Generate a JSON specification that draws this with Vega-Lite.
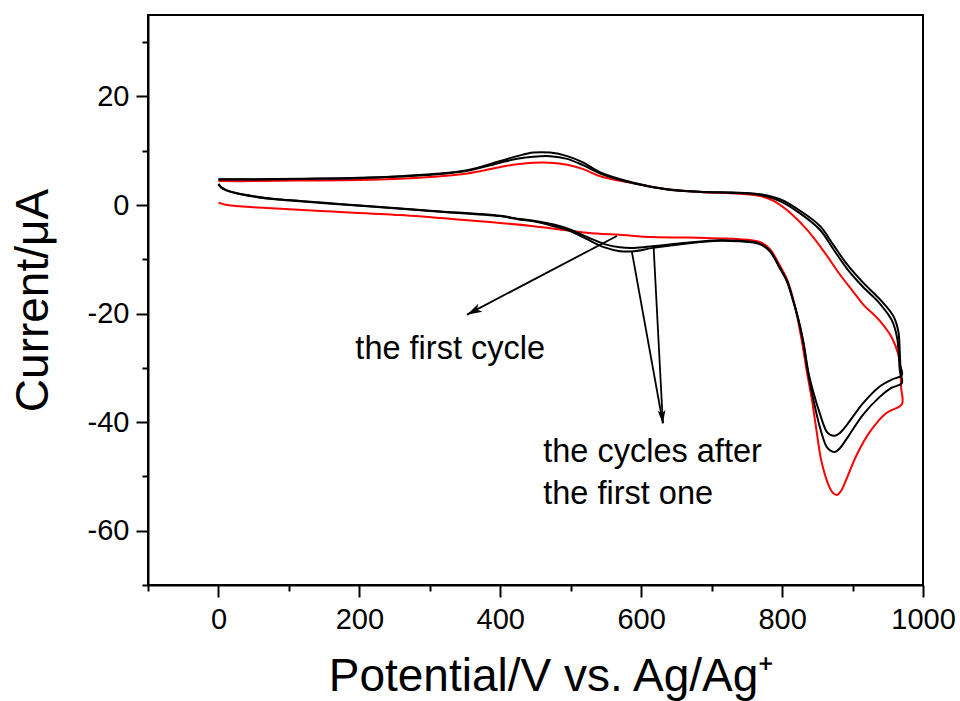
{
  "$schema": "https://vega.github.io/schema/vega-lite/v6.json",
  "width": 775,
  "height": 570,
  "autosize": {"type": "none"},
  "padding": {"left": 148, "top": 15, "right": 37, "bottom": 116},
  "background": "white",
  "config": {"view": {"stroke": "black", "strokeWidth": 2}, "font": "Liberation Sans"},
  "datasets": {
    "cv": [
      {"cycle":"c1","i":0,"potential":0,"current":4.4},
      {"cycle":"c1","i":1,"potential":50,"current":4.4},
      {"cycle":"c1","i":2,"potential":116,"current":4.5},
      {"cycle":"c1","i":3,"potential":200,"current":4.6},
      {"cycle":"c1","i":4,"potential":258,"current":4.85},
      {"cycle":"c1","i":5,"potential":305,"current":5.2},
      {"cycle":"c1","i":6,"potential":353,"current":5.8},
      {"cycle":"c1","i":7,"potential":400,"current":7.0},
      {"cycle":"c1","i":8,"potential":424,"current":7.5},
      {"cycle":"c1","i":9,"potential":447,"current":7.8},
      {"cycle":"c1","i":10,"potential":471,"current":7.8},
      {"cycle":"c1","i":11,"potential":495,"current":7.4},
      {"cycle":"c1","i":12,"potential":518,"current":6.6},
      {"cycle":"c1","i":13,"potential":542,"current":5.3},
      {"cycle":"c1","i":14,"potential":589,"current":4.0},
      {"cycle":"c1","i":15,"potential":637,"current":2.9},
      {"cycle":"c1","i":16,"potential":684,"current":2.4},
      {"cycle":"c1","i":17,"potential":740,"current":2.09},
      {"cycle":"c1","i":18,"potential":769,"current":1.66},
      {"cycle":"c1","i":19,"potential":788,"current":0.74},
      {"cycle":"c1","i":20,"potential":811,"current":-1.4},
      {"cycle":"c1","i":21,"potential":835,"current":-4.5},
      {"cycle":"c1","i":22,"potential":859,"current":-8.5},
      {"cycle":"c1","i":23,"potential":882,"current":-12.8},
      {"cycle":"c1","i":24,"potential":900,"current":-15.8},
      {"cycle":"c1","i":25,"potential":915,"current":-18.3},
      {"cycle":"c1","i":26,"potential":939,"current":-21.4},
      {"cycle":"c1","i":27,"potential":956,"current":-24.5},
      {"cycle":"c1","i":28,"potential":965,"current":-27.6},
      {"cycle":"c1","i":29,"potential":968,"current":-31},
      {"cycle":"c1","i":30,"potential":969,"current":-33.7},
      {"cycle":"c1","i":31,"potential":970,"current":-36.7},
      {"cycle":"c1","i":32,"potential":948,"current":-38.3},
      {"cycle":"c1","i":33,"potential":925,"current":-41.7},
      {"cycle":"c1","i":34,"potential":906,"current":-46},
      {"cycle":"c1","i":35,"potential":892,"current":-50.3},
      {"cycle":"c1","i":36,"potential":884,"current":-52.6},
      {"cycle":"c1","i":37,"potential":878,"current":-53.4},
      {"cycle":"c1","i":38,"potential":872,"current":-53.0},
      {"cycle":"c1","i":39,"potential":866,"current":-51.6},
      {"cycle":"c1","i":40,"potential":856,"current":-47.3},
      {"cycle":"c1","i":41,"potential":849,"current":-41.7},
      {"cycle":"c1","i":42,"potential":842,"current":-35.6},
      {"cycle":"c1","i":43,"potential":835,"current":-30.6},
      {"cycle":"c1","i":44,"potential":828,"current":-25.0},
      {"cycle":"c1","i":45,"potential":818,"current":-18.5},
      {"cycle":"c1","i":46,"potential":808,"current":-14.0},
      {"cycle":"c1","i":47,"potential":797,"current":-11.2},
      {"cycle":"c1","i":48,"potential":783,"current":-8.2},
      {"cycle":"c1","i":49,"potential":770,"current":-6.9},
      {"cycle":"c1","i":50,"potential":740,"current":-6.3},
      {"cycle":"c1","i":51,"potential":712,"current":-6.15},
      {"cycle":"c1","i":52,"potential":665,"current":-6.0},
      {"cycle":"c1","i":53,"potential":617,"current":-5.9},
      {"cycle":"c1","i":54,"potential":570,"current":-5.5},
      {"cycle":"c1","i":55,"potential":523,"current":-5.1},
      {"cycle":"c1","i":56,"potential":447,"current":-3.9},
      {"cycle":"c1","i":57,"potential":400,"current":-3.3},
      {"cycle":"c1","i":58,"potential":353,"current":-2.8},
      {"cycle":"c1","i":59,"potential":258,"current":-1.85},
      {"cycle":"c1","i":60,"potential":145,"current":-1.1},
      {"cycle":"c1","i":61,"potential":69,"current":-0.55},
      {"cycle":"c1","i":62,"potential":30,"current":-0.25},
      {"cycle":"c1","i":63,"potential":10,"current":0.05},
      {"cycle":"c1","i":64,"potential":0,"current":0.43},

      {"cycle":"c2","i":0,"potential":0,"current":4.75},
      {"cycle":"c2","i":1,"potential":50,"current":4.75},
      {"cycle":"c2","i":2,"potential":116,"current":4.85},
      {"cycle":"c2","i":3,"potential":200,"current":5.0},
      {"cycle":"c2","i":4,"potential":258,"current":5.3},
      {"cycle":"c2","i":5,"potential":305,"current":5.7},
      {"cycle":"c2","i":6,"potential":353,"current":6.4},
      {"cycle":"c2","i":7,"potential":400,"current":8.1},
      {"cycle":"c2","i":8,"potential":424,"current":9.0},
      {"cycle":"c2","i":9,"potential":447,"current":9.65},
      {"cycle":"c2","i":10,"potential":471,"current":9.65},
      {"cycle":"c2","i":11,"potential":495,"current":9.0},
      {"cycle":"c2","i":12,"potential":518,"current":7.8},
      {"cycle":"c2","i":13,"potential":542,"current":6.0},
      {"cycle":"c2","i":14,"potential":589,"current":4.1},
      {"cycle":"c2","i":15,"potential":637,"current":2.9},
      {"cycle":"c2","i":16,"potential":684,"current":2.46},
      {"cycle":"c2","i":17,"potential":740,"current":2.27},
      {"cycle":"c2","i":18,"potential":769,"current":1.97},
      {"cycle":"c2","i":19,"potential":797,"current":1.05},
      {"cycle":"c2","i":20,"potential":826,"current":-1.1},
      {"cycle":"c2","i":21,"potential":854,"current":-3.9},
      {"cycle":"c2","i":22,"potential":873,"current":-7.4},
      {"cycle":"c2","i":23,"potential":892,"current":-10.9},
      {"cycle":"c2","i":24,"potential":915,"current":-14.3},
      {"cycle":"c2","i":25,"potential":939,"current":-17.4},
      {"cycle":"c2","i":26,"potential":958,"current":-20.5},
      {"cycle":"c2","i":27,"potential":965,"current":-23.3},
      {"cycle":"c2","i":28,"potential":967,"current":-27},
      {"cycle":"c2","i":29,"potential":968,"current":-29.6},
      {"cycle":"c2","i":30,"potential":970,"current":-31.3},
      {"cycle":"c2","i":31,"potential":955,"current":-32.2},
      {"cycle":"c2","i":32,"potential":939,"current":-33.4},
      {"cycle":"c2","i":33,"potential":915,"current":-36.5},
      {"cycle":"c2","i":34,"potential":892,"current":-40.5},
      {"cycle":"c2","i":35,"potential":882,"current":-42.0},
      {"cycle":"c2","i":36,"potential":875,"current":-42.5},
      {"cycle":"c2","i":37,"potential":868,"current":-42.3},
      {"cycle":"c2","i":38,"potential":863,"current":-41.7},
      {"cycle":"c2","i":39,"potential":854,"current":-38.6},
      {"cycle":"c2","i":40,"potential":844,"current":-34.3},
      {"cycle":"c2","i":41,"potential":837,"current":-30.6},
      {"cycle":"c2","i":42,"potential":830,"current":-25.1},
      {"cycle":"c2","i":43,"potential":823,"current":-21.0},
      {"cycle":"c2","i":44,"potential":816,"current":-17.7},
      {"cycle":"c2","i":45,"potential":807,"current":-14.0},
      {"cycle":"c2","i":46,"potential":797,"current":-11.6},
      {"cycle":"c2","i":47,"potential":783,"current":-8.5},
      {"cycle":"c2","i":48,"potential":770,"current":-7.2},
      {"cycle":"c2","i":49,"potential":759,"current":-6.8},
      {"cycle":"c2","i":50,"potential":740,"current":-6.6},
      {"cycle":"c2","i":51,"potential":712,"current":-6.5},
      {"cycle":"c2","i":52,"potential":665,"current":-6.95},
      {"cycle":"c2","i":53,"potential":617,"current":-7.6},
      {"cycle":"c2","i":54,"potential":590,"current":-7.9},
      {"cycle":"c2","i":55,"potential":570,"current":-7.8},
      {"cycle":"c2","i":56,"potential":548,"current":-7.2},
      {"cycle":"c2","i":57,"potential":523,"current":-5.9},
      {"cycle":"c2","i":58,"potential":499,"current":-4.5},
      {"cycle":"c2","i":59,"potential":476,"current":-3.6},
      {"cycle":"c2","i":60,"potential":447,"current":-2.9},
      {"cycle":"c2","i":61,"potential":428,"current":-2.6},
      {"cycle":"c2","i":62,"potential":400,"current":-2.0},
      {"cycle":"c2","i":63,"potential":305,"current":-1.1},
      {"cycle":"c2","i":64,"potential":211,"current":-0.18},
      {"cycle":"c2","i":65,"potential":160,"current":0.3},
      {"cycle":"c2","i":66,"potential":116,"current":0.74},
      {"cycle":"c2","i":67,"potential":80,"current":1.1},
      {"cycle":"c2","i":68,"potential":50,"current":1.6},
      {"cycle":"c2","i":69,"potential":25,"current":2.2},
      {"cycle":"c2","i":70,"potential":12,"current":2.7},
      {"cycle":"c2","i":71,"potential":4,"current":3.25},
      {"cycle":"c2","i":72,"potential":0,"current":3.9},

      {"cycle":"c3","i":0,"potential":0,"current":4.7},
      {"cycle":"c3","i":1,"potential":50,"current":4.7},
      {"cycle":"c3","i":2,"potential":116,"current":4.8},
      {"cycle":"c3","i":3,"potential":200,"current":4.95},
      {"cycle":"c3","i":4,"potential":258,"current":5.25},
      {"cycle":"c3","i":5,"potential":305,"current":5.6},
      {"cycle":"c3","i":6,"potential":353,"current":6.3},
      {"cycle":"c3","i":7,"potential":400,"current":7.8},
      {"cycle":"c3","i":8,"potential":424,"current":8.5},
      {"cycle":"c3","i":9,"potential":447,"current":8.9},
      {"cycle":"c3","i":10,"potential":471,"current":9.0},
      {"cycle":"c3","i":11,"potential":495,"current":8.5},
      {"cycle":"c3","i":12,"potential":518,"current":7.3},
      {"cycle":"c3","i":13,"potential":542,"current":5.8},
      {"cycle":"c3","i":14,"potential":589,"current":4.0},
      {"cycle":"c3","i":15,"potential":637,"current":2.85},
      {"cycle":"c3","i":16,"potential":684,"current":2.4},
      {"cycle":"c3","i":17,"potential":740,"current":2.2},
      {"cycle":"c3","i":18,"potential":769,"current":1.85},
      {"cycle":"c3","i":19,"potential":797,"current":0.7},
      {"cycle":"c3","i":20,"potential":826,"current":-1.6},
      {"cycle":"c3","i":21,"potential":854,"current":-4.6},
      {"cycle":"c3","i":22,"potential":873,"current":-8.2},
      {"cycle":"c3","i":23,"potential":892,"current":-11.7},
      {"cycle":"c3","i":24,"potential":915,"current":-15.1},
      {"cycle":"c3","i":25,"potential":939,"current":-18.2},
      {"cycle":"c3","i":26,"potential":956,"current":-21.3},
      {"cycle":"c3","i":27,"potential":963,"current":-24.3},
      {"cycle":"c3","i":28,"potential":966,"current":-28},
      {"cycle":"c3","i":29,"potential":967,"current":-30.4},
      {"cycle":"c3","i":30,"potential":970,"current":-32.8},
      {"cycle":"c3","i":31,"potential":955,"current":-33.7},
      {"cycle":"c3","i":32,"potential":939,"current":-35.3},
      {"cycle":"c3","i":33,"potential":915,"current":-38.6},
      {"cycle":"c3","i":34,"potential":892,"current":-43.0},
      {"cycle":"c3","i":35,"potential":882,"current":-44.8},
      {"cycle":"c3","i":36,"potential":875,"current":-45.5},
      {"cycle":"c3","i":37,"potential":868,"current":-45.2},
      {"cycle":"c3","i":38,"potential":863,"current":-44.5},
      {"cycle":"c3","i":39,"potential":854,"current":-41.1},
      {"cycle":"c3","i":40,"potential":844,"current":-35.6},
      {"cycle":"c3","i":41,"potential":837,"current":-31.0},
      {"cycle":"c3","i":42,"potential":830,"current":-25.3},
      {"cycle":"c3","i":43,"potential":823,"current":-21.1},
      {"cycle":"c3","i":44,"potential":816,"current":-17.8},
      {"cycle":"c3","i":45,"potential":807,"current":-14.1},
      {"cycle":"c3","i":46,"potential":797,"current":-11.7},
      {"cycle":"c3","i":47,"potential":783,"current":-8.6},
      {"cycle":"c3","i":48,"potential":770,"current":-7.3},
      {"cycle":"c3","i":49,"potential":759,"current":-6.9},
      {"cycle":"c3","i":50,"potential":740,"current":-6.7},
      {"cycle":"c3","i":51,"potential":712,"current":-6.6},
      {"cycle":"c3","i":52,"potential":665,"current":-7.1},
      {"cycle":"c3","i":53,"potential":617,"current":-7.9},
      {"cycle":"c3","i":54,"potential":590,"current":-8.5},
      {"cycle":"c3","i":55,"potential":570,"current":-8.5},
      {"cycle":"c3","i":56,"potential":548,"current":-7.8},
      {"cycle":"c3","i":57,"potential":523,"current":-6.3},
      {"cycle":"c3","i":58,"potential":499,"current":-4.8},
      {"cycle":"c3","i":59,"potential":476,"current":-3.9},
      {"cycle":"c3","i":60,"potential":447,"current":-3.0},
      {"cycle":"c3","i":61,"potential":428,"current":-2.7},
      {"cycle":"c3","i":62,"potential":400,"current":-2.05},
      {"cycle":"c3","i":63,"potential":305,"current":-1.15},
      {"cycle":"c3","i":64,"potential":211,"current":-0.22},
      {"cycle":"c3","i":65,"potential":160,"current":0.25},
      {"cycle":"c3","i":66,"potential":116,"current":0.7},
      {"cycle":"c3","i":67,"potential":80,"current":1.05},
      {"cycle":"c3","i":68,"potential":50,"current":1.55},
      {"cycle":"c3","i":69,"potential":25,"current":2.15},
      {"cycle":"c3","i":70,"potential":12,"current":2.65},
      {"cycle":"c3","i":71,"potential":4,"current":3.2},
      {"cycle":"c3","i":72,"potential":0,"current":3.8}
    ],
    "arrows": [
      {"x1": 565.5, "y1": -5.7, "x2": 352.8, "y2": -20.2},
      {"x1": 586.8, "y1": -8.6, "x2": 630.8, "y2": -40.2},
      {"x1": 617.5, "y1": -7.4, "x2": 630.8, "y2": -40.2}
    ],
    "labels": [
      {"x": 194.3, "y": -28.3, "text": "the first cycle"},
      {"x": 461, "y": -47.4, "text": "the cycles after"},
      {"x": 461, "y": -55.0, "text": "the first one"}
    ]
  },
  "layer": [
    {
      "data": {"name": "cv"},
      "mark": {"type": "line", "strokeWidth": 2, "interpolate": "catmull-rom"},
      "encoding": {
        "x": {
          "field": "potential", "type": "quantitative",
          "scale": {"domain": [-100, 1000], "nice": false, "zero": false},
          "axis": {
            "values": [-100, 0, 100, 200, 300, 400, 500, 600, 700, 800, 900, 1000],
            "labelExpr": "datum.value % 200 === 0 ? '' + datum.value : ''",
            "tickSize": {"condition": {"test": "datum.value % 200 === 0", "value": 12}, "value": 6},
            "grid": false,
            "domainColor": "black", "domainWidth": 2,
            "tickColor": "black", "tickWidth": 2,
            "labelFont": "Liberation Sans", "labelFontSize": 29, "labelColor": "black",
            "labelPadding": 8, "labelFlush": false,
            "title": "Potential/V vs. Ag/Ag⁺",
            "titleFont": "Liberation Sans", "titleFontSize": 46, "titleFontWeight": "normal",
            "titleColor": "black", "titlePadding": 20,
            "titleX": 403, "titleAlign": "center"
          }
        },
        "y": {
          "field": "current", "type": "quantitative",
          "scale": {"domain": [-70, 35], "nice": false, "zero": false},
          "axis": {
            "values": [-70, -60, -50, -40, -30, -20, -10, 0, 10, 20, 30],
            "labelExpr": "datum.value % 20 === 0 ? '' + datum.value : ''",
            "tickSize": {"condition": {"test": "datum.value % 20 === 0", "value": 12}, "value": 6},
            "grid": false,
            "domainColor": "black", "domainWidth": 2,
            "tickColor": "black", "tickWidth": 2,
            "labelFont": "Liberation Sans", "labelFontSize": 29, "labelColor": "black",
            "labelPadding": 7, "labelFlush": false,
            "title": "Current/μA",
            "titleFont": "Liberation Sans", "titleFontSize": 46, "titleFontWeight": "normal",
            "titleColor": "black", "titlePadding": 30
          }
        },
        "color": {
          "field": "cycle", "type": "nominal",
          "scale": {"domain": ["c1", "c2", "c3"], "range": ["#ff0000", "#000000", "#000000"]},
          "legend": null
        },
        "order": {"field": "i", "type": "quantitative"}
      }
    },
    {
      "data": {"name": "arrows"},
      "mark": {"type": "rule", "color": "black", "strokeWidth": 1.8},
      "encoding": {
        "x": {"field": "x1", "type": "quantitative"},
        "y": {"field": "y1", "type": "quantitative"},
        "x2": {"field": "x2"},
        "y2": {"field": "y2"}
      }
    },
    {
      "data": {"values": [{"x": 352.8, "y": -20.2}]},
      "mark": {"type": "point", "shape": "M0,0 L0.6,2 L0,1.5 L-0.6,2 Z", "filled": true, "color": "black", "opacity": 1, "size": 225, "angle": 242.4},
      "encoding": {
        "x": {"field": "x", "type": "quantitative"},
        "y": {"field": "y", "type": "quantitative"}
      }
    },
    {
      "data": {"values": [{"x": 630.8, "y": -40.2}]},
      "mark": {"type": "point", "shape": "M0,0 L0.6,2 L0,1.5 L-0.6,2 Z", "filled": true, "color": "black", "opacity": 1, "size": 169, "angle": 174},
      "encoding": {
        "x": {"field": "x", "type": "quantitative"},
        "y": {"field": "y", "type": "quantitative"}
      }
    },
    {
      "data": {"name": "labels"},
      "mark": {"type": "text", "align": "left", "baseline": "alphabetic", "font": "Liberation Sans", "fontSize": 32.5, "color": "black"},
      "encoding": {
        "x": {"field": "x", "type": "quantitative"},
        "y": {"field": "y", "type": "quantitative"},
        "text": {"field": "text"}
      }
    }
  ]
}
